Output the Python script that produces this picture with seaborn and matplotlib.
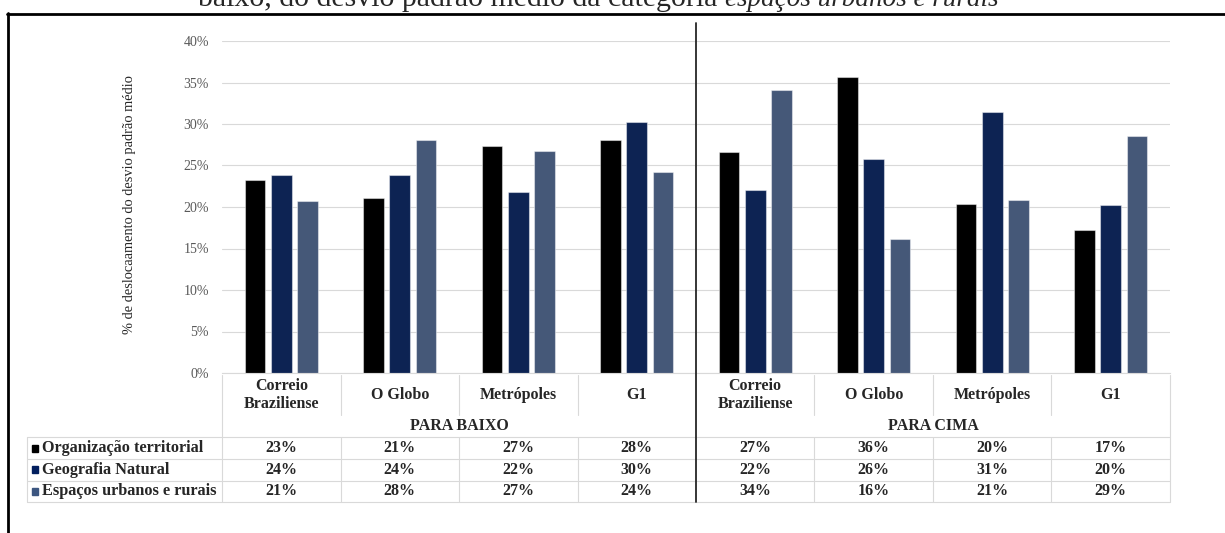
import matplotlib
matplotlib.use('Agg')
import matplotlib.pyplot as plt
import matplotlib.transforms as mtransforms
from matplotlib.patches import Rectangle
import pandas as pd
import seaborn as sns

# dados (% do desvio padrão médio)
directions = ['PARA BAIXO', 'PARA CIMA']
outlets = ['Correio\nBraziliense', 'O Globo', 'Metrópoles', 'G1']
series = ['Organização territorial', 'Geografia Natural', 'Espaços urbanos e rurais']
org = [23.3, 21.1, 27.3, 28.1, 26.6, 35.7, 20.4, 17.2]
geo = [23.9, 23.9, 21.8, 30.2, 22.1, 25.8, 31.4, 20.3]
esp = [20.7, 28.1, 26.8, 24.2, 34.1, 16.1, 20.8, 28.6]
colors = ['#000000', '#021f5e', '#3c5680']

W, H = 1225, 533


def fx(px):
    return px / W


def fy(py):
    return 1 - py / H


sns.set_style('white')
plt.rcParams['font.family'] = ['Liberation Serif', 'DejaVu Serif']

keys = [d + '|' + o for d in directions for o in outlets]
rows = []
for s, vals in zip(series, [org, geo, esp]):
    for k, v in zip(keys, vals):
        rows.append([k, s, v])
df = pd.DataFrame(rows, columns=['col', 'serie', 'valor'])

fig = plt.figure(figsize=(W / 100, H / 100), dpi=100)
ax = fig.add_axes([fx(222), fy(373), fx(1170 - 222), (373 - 41) / H])

sns.barplot(data=df, x='col', y='valor', hue='serie', order=keys,
            hue_order=series, palette=colors, width=0.666, gap=0.22,
            edgecolor=(1, 1, 1, 0.45), linewidth=0.8, ax=ax, legend=False)

ax.set_xlim(-0.5, 7.5)
ax.set_ylim(0, 40)
ax.set_yticks(range(0, 41, 5))
ax.set_yticklabels([f'{t}%' for t in range(0, 41, 5)])
ax.tick_params(axis='y', length=0, labelsize=10, labelcolor='#595959', pad=9.5)
ax.set_xticks([])
ax.set_xlabel('')
ax.set_ylabel('')
ax.yaxis.grid(True, color='#d9d9d9', lw=0.8)
ax.set_axisbelow(True)
for sp in ['top', 'right', 'left']:
    ax.spines[sp].set_visible(False)
ax.spines['bottom'].set_color('#d9d9d9')
ax.spines['bottom'].set_linewidth(0.8)

fig.text(fx(130), fy(205), '% de deslocaamento do desvio padrão médio',
         rotation=90, ha='center', va='center', fontsize=10.4)

# tabela de dados abaixo do gráfico
tr = mtransforms.blended_transform_factory(ax.transData, fig.transFigure)
grid_c = '#d9d9d9'


def vline(x, y0, y1, color=grid_c, lw=0.8, trans=tr):
    fig.add_artist(plt.Line2D([x, x], [fy(y0), fy(y1)], color=color, lw=lw,
                              transform=trans))


def hline(y, x0, x1, color=grid_c, lw=0.8):
    fig.add_artist(plt.Line2D([fx(x0), fx(x1)], [fy(y), fy(y)], color=color,
                              lw=lw, transform=fig.transFigure))


for i in range(9):
    b = i - 0.5
    if i in (0, 8):
        vline(b, 375, 502)
    elif i != 4:
        vline(b, 375, 415)
        vline(b, 437, 502)
vline(fx(27), 437, 502, trans=fig.transFigure)
for y in [437, 459, 480.5, 502]:
    hline(y, 27, 1170)
vline(3.5, 23, 502, color='#262626', lw=1.3)

bold = dict(fontsize=11.5, fontweight='bold', ha='center', va='center')
for i, k in enumerate(keys):
    d, o = k.split('|')
    fig.text(i, fy(395), o, transform=tr, linespacing=1.1, **bold)
for j, d in enumerate(directions):
    fig.text(j * 4 + 1.5, fy(426), d, transform=tr, **bold)

row_y = [448, 469.5, 491]
for s, vals, c, y in zip(series, [org, geo, esp], colors, row_y):
    fig.add_artist(Rectangle((fx(32), fy(y + 3.5)), fx(6), 7 / H, color=c,
                             transform=fig.transFigure))
    fig.text(fx(42), fy(y), s, fontsize=11.7, fontweight='bold', ha='left',
             va='center')
    for i, v in enumerate(vals):
        fig.text(i, fy(y), f'{round(v)}%', transform=tr, **bold)

# moldura e legenda da figura (cortada no topo, como no original)
hline(13.5, 7, 1225, color='black', lw=2)
fig.add_artist(plt.Line2D([fx(7.5), fx(7.5)], [fy(13), 0], color='black', lw=2,
                          transform=fig.transFigure))
t1 = fig.text(fx(198), fy(6), 'baixo, do desvio padrão médio da categoria ',
              fontsize=21.5, va='baseline', ha='left')
ax.annotate('espaços urbanos e rurais', xy=(1, 0), xycoords=t1, fontsize=19.5,
            fontstyle='italic', va='bottom', ha='left', annotation_clip=False)

fig.savefig('out.png', dpi=100)
